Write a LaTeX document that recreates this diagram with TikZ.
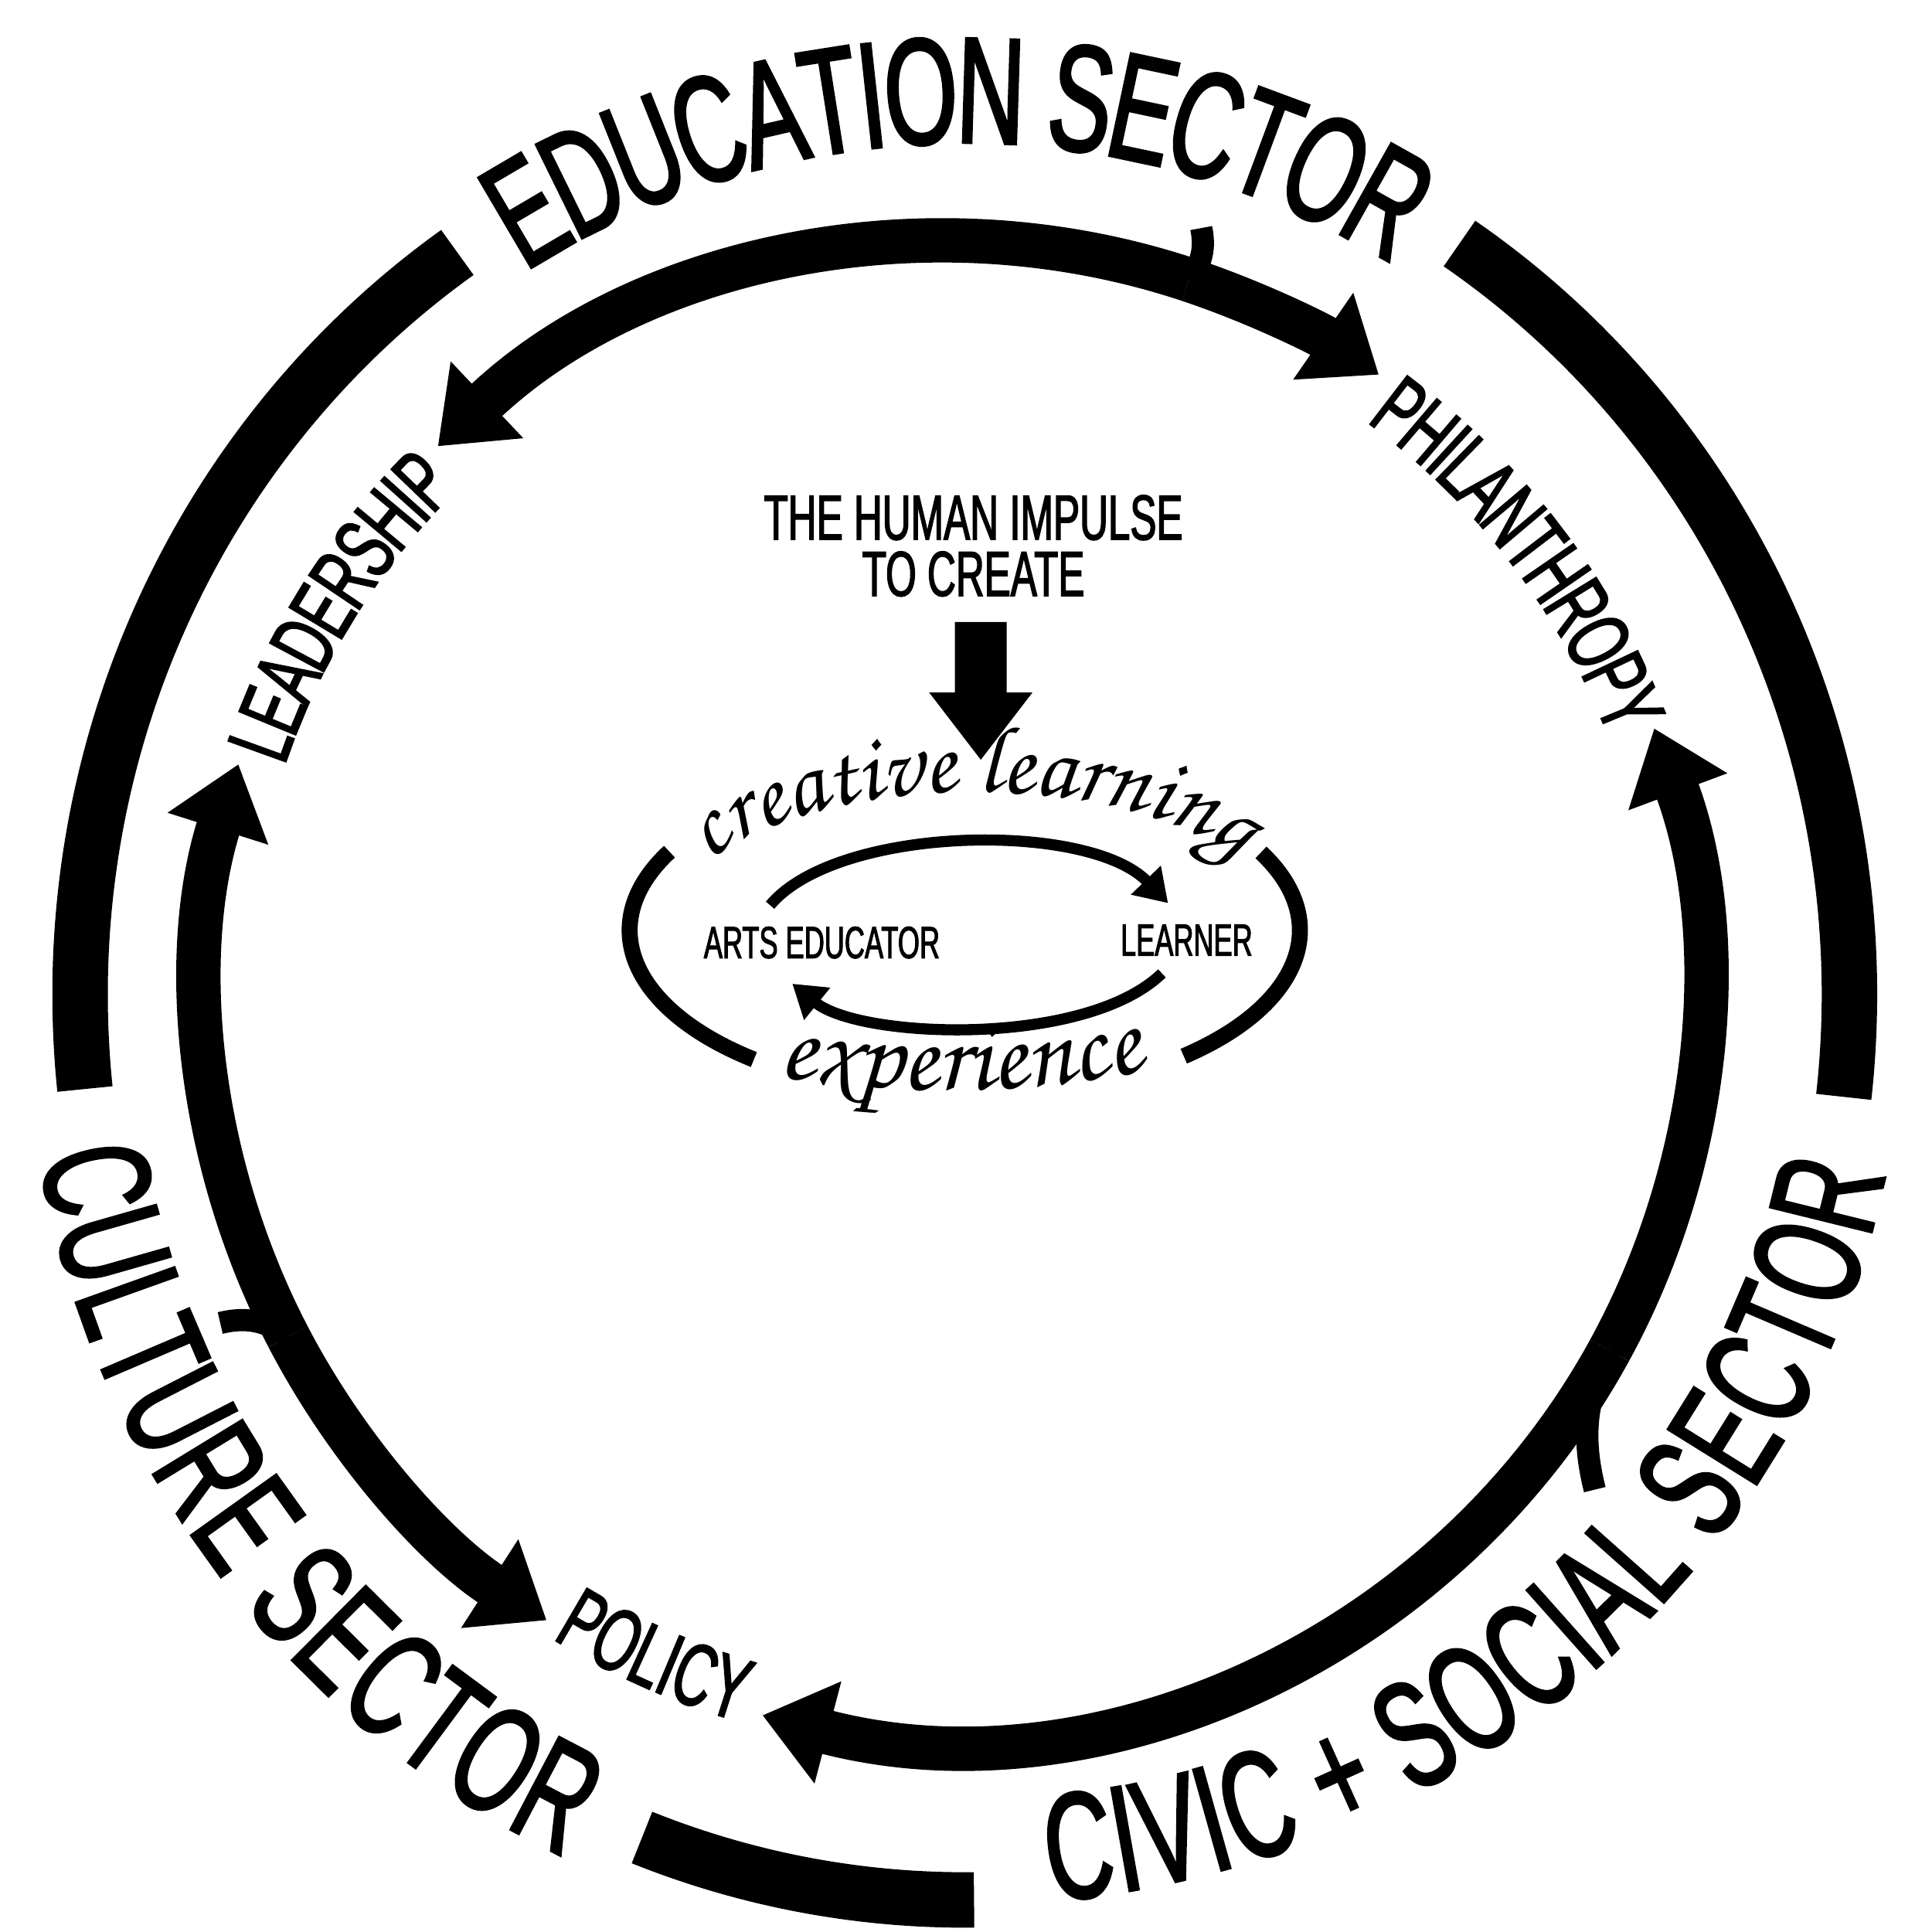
\documentclass[tikz,border=0pt]{standalone}
\usepackage{fontspec}
\setmainfont{Liberation Sans}
\newfontfamily\condfont[FakeStretch=0.62,FakeBold=1.8]{Liberation Sans}
\newfontfamily\handfont{texgyrechorus-mediumitalic.otf}
\usetikzlibrary{arrows.meta,decorations.text}
\newcommand\sectorfont{\condfont\fontsize{35}{40}\selectfont}
\newcommand\rolefont{\condfont\fontsize{20.5}{24}\selectfont}
\tikzset{
  ring/.style={line width=4.5mm},
  flow/.style={line width=3.6mm,-{Triangle[width=8.2mm,length=5.5mm]}},
  stub/.style={line width=1.8mm},
  loop/.style={line width=1.3mm},
  thin flow/.style={line width=0.9mm,-{Triangle[width=3.2mm,length=2.6mm]}},
  sector/.style={decorate,decoration={text along path,text align=center,
    raise=-4.4mm,text={|\sectorfont|#1}}},
  role/.style={decorate,decoration={text along path,text align=center,
    text={|\rolefont|#1}}},
  hand/.style 2 args={decorate,decoration={text along path,text align=center,
    text={|\handfont\fontsize{#1}{30}\selectfont|#2}}},
  caption/.style={font=\condfont\fontsize{#1}{13}\selectfont,align=center}
}

\begin{document}
\begin{tikzpicture}
\useasboundingbox (0,0) rectangle (15.68,-15.68);
\coordinate (O) at (7.83,-8.07);
\coordinate (C) at (7.73,-8.04);
\coordinate (E) at (7.83,-7.55);

% outer ring and sectors
\draw[ring] ([shift={(125:7.18 and 7.35)}]O) arc[start angle=125,end angle=186,x radius=7.18,y radius=7.35];
\draw[ring] ([shift={(-6.5:7.18 and 7.35)}]O) arc[start angle=-6.5,end angle=56,x radius=7.18,y radius=7.35];
\draw[ring] ([shift={(248.6:7.18 and 7.35)}]O) arc[start angle=248.6,end angle=270.6,x radius=7.18,y radius=7.35];
\path[sector={EDUCATION SECTOR}] ([shift={(125:7.18 and 7.35)}]O) arc[start angle=125,end angle=56,x radius=7.18,y radius=7.35];
\path[sector={CULTURE SECTOR}] ([shift={(186:7.18 and 7.3)}]O) arc[start angle=186,end angle=248.6,x radius=7.18,y radius=7.3];
\path[sector={CIVIC + SOCIAL SECTOR}] ([shift={(270.6:7.18 and 6.95)}]O) arc[start angle=270.6,end angle=353.5,x radius=7.18,y radius=6.95];

% inner ring
\coordinate (jtop) at ([shift={(71.6:6.08)}]C);
\coordinate (jright) at ([shift={(-28.7:6.08)}]C);
\coordinate (jleft) at ([shift={(207.5:6.08)}]C);
\coordinate (tailtop) at ([shift={(0.1,0.42)}]jtop);
\coordinate (tailright) at ([shift={(-0.12,-1.13)}]jright);
\coordinate (tailleft) at ([shift={(-0.55,0.11)}]jleft);
\draw[stub] (jtop) to[bend right=25] (tailtop);
\draw[stub] (jright) to[bend right=20] (tailright);
\draw[stub] (jleft) to[bend right=25] (tailleft);
\draw[flow] (jtop) arc[start angle=71.6,end angle=133.4,radius=6.08];
\draw[flow] (jtop) arc[start angle=71.6,end angle=55.3,radius=6.08];
\draw[flow] (jright) arc[start angle=-28.7,end angle=20.5,radius=6.08];
\draw[flow] (jright) arc[start angle=-28.7,end angle=-104.7,radius=6.08];
\draw[flow] (jleft) arc[start angle=207.5,end angle=162.4,radius=6.08];
\draw[flow] (jleft) arc[start angle=207.5,end angle=237.2,radius=6.08];
\path[role={LEADERSHIP},decoration={raise=-3.6mm}] ([shift={(165:6.08)}]C) arc[start angle=165,end angle=131,radius=6.08];
\path[role={PHILANTHROPY},decoration={raise=-3.7mm}] ([shift={(58:6.08)}]C) arc[start angle=58,end angle=17,radius=6.08];
\path[role={POLICY},decoration={raise=-1mm}] ([shift={(232:6.08)}]C) arc[start angle=232,end angle=260,radius=6.08];

% centre
\node[caption=14.7,inner sep=0pt] (impulse) at (7.9,-4.43) {THE HUMAN IMPULSE\\TO CREATE};
\coordinate (impulsetip) at (7.96,-6.17);
\draw[line width=4.2mm,-{Triangle[width=8mm,length=5.5mm]}] ([shift={(0.06,-0.2)}]impulse.south) -- (impulsetip);
\draw[loop] ([shift={(151.8:2.72 and 1.35)}]E) arc[start angle=151.8,end angle=231,x radius=2.72,y radius=1.35];
\draw[loop] ([shift={(27.9:2.72 and 1.35)}]E) arc[start angle=27.9,end angle=-49.2,x radius=2.72,y radius=1.35];
\path[hand={22}{creative learning}] (5.6,-7.12) .. controls (6.5,-6.2) and (9.3,-6.2) .. (10.2,-7.1);
\path[hand={24}{experience}] (6.0,-8.66) .. controls (7.0,-8.92) and (8.6,-8.92) .. (9.6,-8.6);
\node[caption=10.4] (arts) at (6.67,-7.65) {ARTS EDUCATOR};
\node[caption=10.4] (learner) at (9.63,-7.63) {LEARNER};
\draw[thin flow] ([shift={(-0.42,0.05)}]arts.north) .. controls +(50:0.85) and +(134:0.93) .. ([shift={(-0.15,0.05)}]learner.north);
\draw[thin flow] ([shift={(-0.2,-0.02)}]learner.south) .. controls +(224:0.87) and +(-39:0.71) .. ([shift={(-0.24,-0.08)}]arts.south);
\end{tikzpicture}
\end{document}
